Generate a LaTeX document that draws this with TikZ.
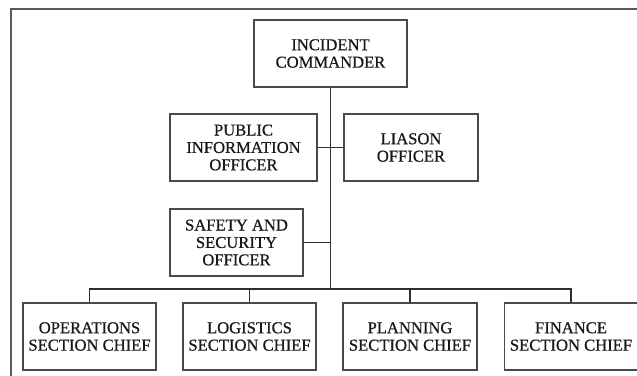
\documentclass[tikz,border=0pt]{standalone}
\usepackage{fontspec}
\setmainfont{Liberation Serif}[FakeBold=0.6]
\definecolor{boxline}{HTML}{4A4A4A}
\definecolor{wire}{HTML}{2E2E2E}
\definecolor{frameline}{HTML}{5A5A5A}
\definecolor{txt}{HTML}{181818}
\begin{document}
\begin{tikzpicture}[x=1pt,y=-1pt,
  orgbox/.style={draw=boxline, line width=1.5pt, fill=white, minimum height=67pt,
    inner sep=0pt, align=center, text=txt,
    font=\fontsize{16.6pt}{17.4pt}\selectfont},
  wireline/.style={draw=wire, line width=1.7pt}]
\useasboundingbox (0,0) rectangle (637,375);
\draw[frameline, line width=2pt] (11,9) rectangle (660,400);
\node[orgbox, minimum width=153pt] (ic) at (330.5,53.5) {INCIDENT\\COMMANDER};
\node[orgbox, minimum width=147pt] (pio) at (243.5,147.5) {PUBLIC\\INFORMATION\\OFFICER};
\node[orgbox, minimum width=134pt] (lia) at (411,147.5) {LIASON\\OFFICER};
\node[orgbox, minimum width=133pt] (saf) at (236.5,242.5) {SAFETY AND\\SECURITY\\OFFICER};
\node[orgbox, minimum width=133pt] (ops) at (89.5,336.5) {OPERATIONS\\SECTION CHIEF};
\node[orgbox, minimum width=133pt] (log) at (249.5,336.5) {LOGISTICS\\SECTION CHIEF};
\node[orgbox, minimum width=134pt] (pla) at (410,336.5) {PLANNING\\SECTION CHIEF};
\node[orgbox, minimum width=133pt] (fin) at (571,336.5) {FINANCE\\SECTION CHIEF};
\coordinate (bus) at (331,289);
\draw[wireline] (ic.south) -- (ic.south |- bus);
\draw[wireline] (pio.east) -- (lia.west);
\draw[wireline] (saf.east) -- (saf.east -| ic.south);
\draw[wireline] (ops.north) |- (fin.north |- bus) -- (fin.north);
\draw[wireline] (log.north) -- (log.north |- bus);
\draw[wireline] (pla.north) -- (pla.north |- bus);
\end{tikzpicture}
\end{document}
